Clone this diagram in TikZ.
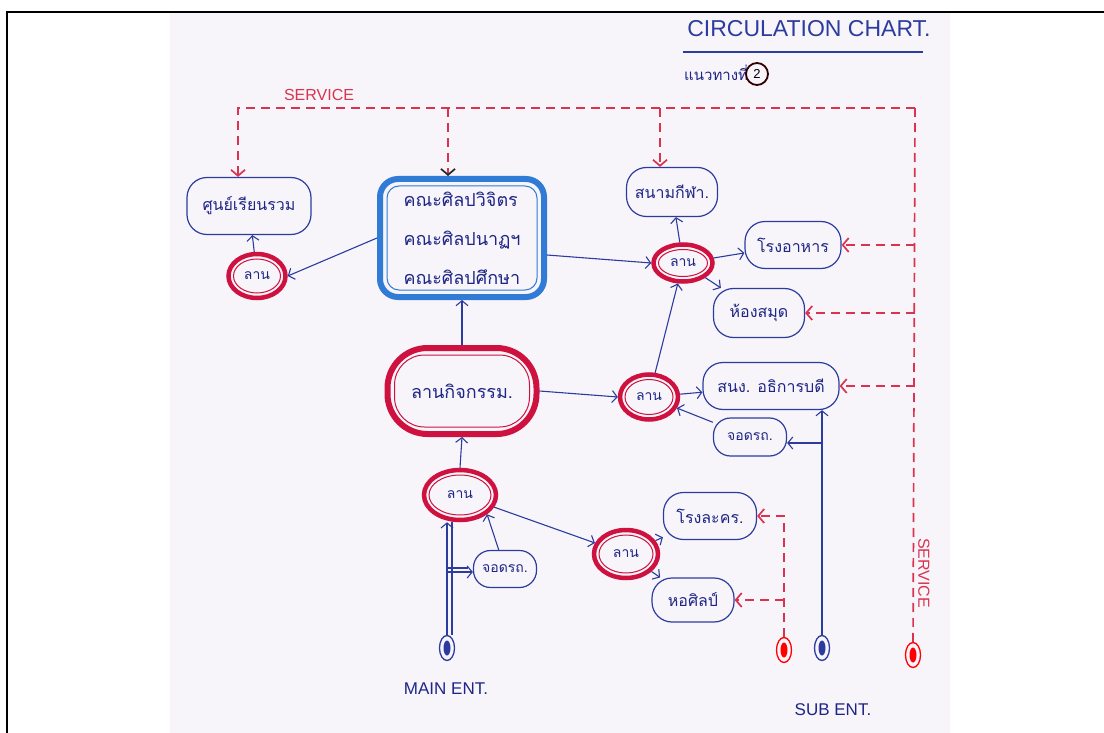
\documentclass[tikz,border=0pt]{standalone}
\usepackage{fontspec}
\setmainfont{Liberation Sans}
\newfontfamily\thaifont[Script=Thai]{Loma}
\usetikzlibrary{arrows.meta}
\usetikzlibrary{shapes.geometric}
\usetikzlibrary{calc}
\usetikzlibrary{positioning}

\definecolor{inkblue}{HTML}{2C3C9E}
\definecolor{inktext}{HTML}{1E2585}
\definecolor{boxblue}{HTML}{2F7BD6}
\definecolor{ringred}{HTML}{CF1140}
\definecolor{dashred}{HTML}{D9334F}
\definecolor{photobg}{HTML}{F7F5FA}

\tikzset{
  place/.style={draw=inkblue, line width=1.2pt, rounded corners=20pt, text=inktext,
    inner sep=2pt, font=\thaifont\fontsize{16}{19}\selectfont},
  plaza/.style={ellipse, draw=ringred, line width=4.5pt, inner sep=0pt, text=inktext,
    font=\thaifont\fontsize{14}{16}\selectfont,
    path picture={\draw[ringred, line width=1pt]
      let \p1=(path picture bounding box.north east), \p2=(path picture bounding box.center)
      in (\p2) ellipse [x radius={\x1-\x2-5pt}, y radius={\y1-\y2-5pt}];}},
  hub/.style 2 args={draw=#1, line width=6pt, text=inktext, inner sep=2pt,
    path picture={\draw[#1, line width=1pt, rounded corners=#2]
      ([xshift=7pt,yshift=7pt]path picture bounding box.south west) rectangle
      ([xshift=-7pt,yshift=-7pt]path picture bounding box.north east);}},
  gate/.style={ellipse, draw=#1, line width=1.3pt, minimum width=15pt, minimum height=25pt, inner sep=0pt,
    path picture={\fill[#1] (path picture bounding box.center) ellipse [x radius=3.5pt, y radius=7.5pt];}},
  link/.style={draw=inkblue, line width=1.1pt, -{Straight Barb[length=5pt,width=12pt]}},
  service/.style={draw=dashred, line width=1.7pt, dash pattern=on 9pt off 6pt,
    -{Straight Barb[length=6pt,width=14pt]}},
  tag/.style={text=dashred, font=\fontsize{16}{18}\selectfont},
  entlabel/.style={text=inktext, font=\fontsize{17}{19}\selectfont}
}

\begin{document}
\begin{tikzpicture}[x=1pt,y=-1pt]
  \useasboundingbox (0,0) rectangle (1104,733);
  \fill[photobg] (170,13) rectangle (950,733);
  \draw[line width=2.5pt] (7,733) -- (7,12) -- (1104,12);

  % heading
  \node[text=inkblue, font=\fontsize{23}{25}\selectfont] (chart) at (809,29) {CIRCULATION CHART.};
  \draw[inkblue, line width=1.1pt] (683,52) -- (923,52);
  \node[text=inktext, font=\thaifont\fontsize{15}{18}\selectfont, anchor=west, inner sep=0pt] (route) at (684,73) {แนวทางที่};
  \node[circle, draw=black!80!red, line width=1.8pt, minimum size=22pt, inner sep=0pt,
    font=\fontsize{13}{15}\selectfont] (routeNo) at (757,74) {2};

  % places
  \node[place, minimum width=124pt, minimum height=57pt] (lecture) at (249,206) {ศูนย์เรียนรวม};
  \node[plaza, minimum width=57pt, minimum height=44pt] (plazaL) at (257,276) {ลาน};
  \node[hub={boxblue}{12pt}, rounded corners=18pt, minimum width=164pt, minimum height=118pt,
    align=left, font=\thaifont\fontsize{18}{39}\selectfont] (faculty) at (462,238)
    {คณะศิลปวิจิตร\\คณะศิลปนาฏฯ\\คณะศิลปศึกษา};
  \node[place, minimum width=91pt, minimum height=49pt] (field) at (672,192) {สนามกีฬา.};
  \node[plaza, minimum width=59pt, minimum height=37pt] (plazaN) at (683,263) {ลาน};
  \node[place, minimum width=96pt, minimum height=47pt] (canteen) at (793,245) {โรงอาหาร};
  \node[place, minimum width=91pt, minimum height=49pt] (library) at (759,313) {ห้องสมุด};
  \node[hub={ringred}{30pt}, rounded corners=40pt, minimum width=149pt, minimum height=86pt,
    font=\thaifont\fontsize{18}{21}\selectfont] (activity) at (462,391) {ลานกิจกรรม.};
  \node[plaza, minimum width=58pt, minimum height=45pt] (plazaE) at (649,397) {ลาน};
  \node[place, minimum width=136pt, minimum height=47pt] (office) at (771,386) {สนง. อธิการบดี};
  \node[place, rounded corners=17pt, minimum width=73pt, minimum height=38pt,
    font=\thaifont\fontsize{14}{16}\selectfont] (parkE) at (750,437) {จอดรถ.};
  \node[plaza, minimum width=72pt, minimum height=50pt] (plazaS) at (460,495) {ลาน};
  \node[place, rounded corners=17pt, minimum width=63pt, minimum height=37pt,
    font=\thaifont\fontsize{14}{16}\selectfont] (parkS) at (505,569) {จอดรถ.};
  \node[plaza, minimum width=64pt, minimum height=48pt] (plazaSE) at (626,554) {ลาน};
  \node[place, minimum width=93pt, minimum height=47pt] (theatre) at (710,516) {โรงละคร.};
  \node[place, minimum width=82pt, minimum height=44pt] (gallery) at (693,600) {หอศิลป์};

  % entrances
  \node[gate=inkblue] (mainEnt) at (447,648) {};
  \node[gate=red] (subEntR) at (784,650) {};
  \node[gate=inkblue] (subEntB) at (822,648) {};
  \node[gate=red] (serviceEnt) at (913,655) {};
  \node[entlabel] (mainLbl) at (446,689) {MAIN ENT.};
  \node[entlabel] (subLbl) at (833,710) {SUB ENT.};

  % walkways
  \draw[link] (plazaL) -- (lecture);
  \draw[link] (faculty.west) -- (plazaL.east);
  \draw[link] ([yshift=-17pt]faculty.east) -- (plazaN.west);
  \draw[link] (plazaN) -- (field);
  \draw[link] (plazaN) -- (canteen);
  \draw[link] (plazaN) -- (library);
  \draw[link] (plazaE) -- (plazaN);
  \draw[link] (activity.north) -- (faculty.south);
  \draw[link] (activity.east) -- (plazaE.west);
  \draw[link] (plazaE) -- (office);
  \draw[link] (parkE) -- (plazaE);
  \draw[link] (subEntB) -- (subEntB |- office.south);
  \draw[link] ($(subEntB |- parkE.east)+(0,6)$) -- ($(parkE.east)+(0,6)$);
  \draw[link] (plazaS.north) -- (activity.south);
  \draw[link] (mainEnt) -- (mainEnt |- plazaS.south);
  \draw[inkblue, line width=1.1pt] ([xshift=5pt]mainEnt.north) -- ([xshift=5pt]mainEnt.north |- plazaS.south);
  \draw[link] ($(mainEnt |- parkS.west)+(0,3)$) -- ($(parkS.west)+(0,3)$);
  \draw[inkblue, line width=1.1pt] ($(mainEnt |- parkS.west)+(0,-1)$) -- ($(parkS.west)+(-5,-1)$);
  \draw[link] (parkS) -- (plazaS.south east);
  \draw[link] (plazaS) -- (plazaSE);
  \draw[link] (plazaSE) -- (theatre);
  \draw[link] (plazaSE) -- (gallery);

  % service routes
  \coordinate (svcL) at (238,108);
  \coordinate (svcM) at (448,108);
  \coordinate (svcF) at (660,108);
  \coordinate (svcR) at (915,108);
  \node[tag] (svcTop) at (319,95) {SERVICE};
  \node[tag, rotate=-90] (svcSide) at (924,573) {SERVICE};
  \draw[service] (svcR) -- (svcL) -- (svcL |- lecture.north);
  \draw[service, -{Straight Barb[length=6pt,width=14pt,color=black!85]}] (svcM) -- (svcM |- faculty.north);
  \draw[service] (svcF) -- (svcF |- field.north);
  \draw[service, -] (svcR) -- (serviceEnt);
  \draw[service] (canteen.east -| svcR) -- (canteen.east);
  \draw[service] (library.east -| svcR) -- (library.east);
  \draw[service] (office.east -| svcR) -- (office.east);
  \draw[service] (subEntR) -- (subEntR |- theatre.east) -- (theatre.east);
  \draw[service] (gallery.east -| subEntR) -- (gallery.east);
\end{tikzpicture}
\end{document}
